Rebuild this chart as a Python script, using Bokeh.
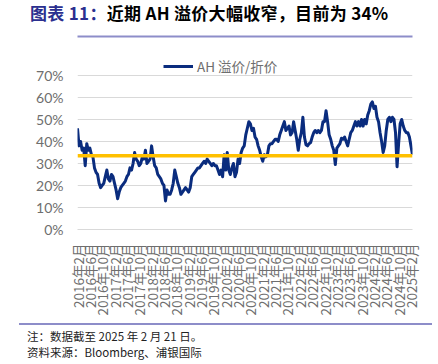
from bokeh.plotting import figure
from bokeh.models import (Span, Legend, LegendItem, FixedTicker, PrintfTickFormatter,
                          Range1d, ColumnDataSource, Div, LinearAxis)
from bokeh.layouts import column
from bokeh.embed import file_html
from bokeh.resources import INLINE
import math

# ---------------- data ----------------
tick_labels = ["2016年2月", "2016年6月", "2016年10月", "2017年2月", "2017年6月", "2017年10月",
               "2018年2月", "2018年6月", "2018年10月", "2019年2月", "2019年6月", "2019年10月",
               "2020年2月", "2020年6月", "2020年10月", "2021年2月", "2021年6月", "2021年10月",
               "2022年2月", "2022年6月", "2022年10月", "2023年2月", "2023年6月", "2023年10月",
               "2024年2月", "2024年6月", "2024年10月", "2025年2月"]

# AH premium (%), two readings per month, Feb 2016 - Feb 2025
ah_premium = [
    46, 38, 40, 36, 37, 29, 39, 36, 37, 34, 33, 28, 26, 25, 21, 19, 20, 21, 24, 27,
    23, 22, 25, 24, 21, 18, 14, 17, 19, 20, 21, 22, 24, 25, 28, 27, 30, 35, 32, 31,
    29, 30, 33, 32, 36, 30, 31, 32, 38, 33, 29, 28, 25, 24, 23, 21, 20, 13, 18, 16,
    16, 18, 21, 27, 24, 21, 19, 16, 17, 18, 19, 18, 17, 19, 24, 25, 26, 27, 28, 28,
    29, 30, 31, 30, 32, 31, 30, 29, 30, 29, 29, 27, 25, 27, 24, 34, 27, 35, 27, 25,
    28, 30, 24, 26, 32, 30, 35, 37, 38, 43, 46, 49, 48, 45, 46, 42, 41, 38, 36, 33,
    31, 34, 33, 34, 38, 39, 39, 40, 41, 41, 40, 43, 45, 47, 49, 45, 46, 47, 43, 44,
    49, 45, 41, 36, 41, 44, 51, 42, 38.5, 38, 39, 39.5, 42, 44, 45, 44, 45, 44, 45, 49,
    49, 54, 49, 43, 41, 38, 36, 29.5, 37, 38, 39, 41.5, 41, 42, 40, 38, 41, 44, 45, 47,
    49, 47, 49, 47, 50, 47, 50, 48, 52, 54, 57, 58, 55, 56, 51, 49, 44, 40, 35, 38,
    45, 50, 51, 49, 51, 50, 44, 28.5, 39, 48, 50, 47, 45, 44, 44, 42, 38, 34,
]
avg_level = 33.5
y_ticks = [0, 10, 20, 30, 40, 50, 60, 70]

series_label = "AH 溢价/折价"
title_head = "图表 11："
title_body = "近期 AH 溢价大幅收窄，目前为 34%"
note_1 = "注：数据截至 2025 年 2 月 21 日。"
note_2 = "资料来源：Bloomberg、浦银国际"

# month offsets from Feb 2016
def month_offset(lbl):
    y, rest = lbl.split("年")
    m = int(rest.replace("月", ""))
    return (int(y) - 2016) * 12 + (m - 2)

tick_pos = [month_offset(l) for l in tick_labels]
x_pos = [i * 0.5 for i in range(len(ah_premium))]

# ---------------- styles ----------------
CJK = "Noto Sans CJK SC"
GRAY = "#6E6E6E"
RULE = "#8D8DC9"
W = 434

# ---------------- main figure ----------------
p = figure(width=W, height=289, output_backend="svg", toolbar_location=None,
           x_range=Range1d(0, x_pos[-1]), y_range=Range1d(0, 87.7),
           min_border_left=77, min_border_right=22, min_border_top=2, min_border_bottom=94)
p.outline_line_color = None
p.xgrid.grid_line_color = None
p.ygrid.grid_line_color = "#D9D9D9"
p.ygrid.grid_line_width = 1

p.yaxis.ticker = FixedTicker(ticks=y_ticks)
p.yaxis.formatter = PrintfTickFormatter(format="%d%%")
p.yaxis.axis_line_color = None
p.yaxis.major_tick_line_color = None
p.yaxis.minor_tick_line_color = None
p.yaxis.major_tick_out = 0
p.yaxis.major_label_standoff = 14
p.yaxis.major_label_text_font = "Lato"
p.yaxis.major_label_text_font_size = "14px"
p.yaxis.major_label_text_color = GRAY

p.xaxis.ticker = FixedTicker(ticks=tick_pos)
p.xaxis.major_label_overrides = {t: l for t, l in zip(tick_pos, tick_labels)}
p.xaxis.major_label_orientation = math.pi / 2
p.xaxis.axis_line_color = "#D9D9D9"
p.xaxis.major_tick_line_color = None
p.xaxis.minor_tick_line_color = None
p.xaxis.major_tick_out = 0
p.xaxis.major_label_standoff = 14
p.xaxis.major_label_text_font = CJK
p.xaxis.major_label_text_font_size = "13.5px"
p.xaxis.major_label_text_color = GRAY

# top rule under the title, drawn as an unlabeled axis line
top_rule = LinearAxis(ticker=FixedTicker(ticks=[]), axis_line_color=RULE, axis_line_width=2,
                      major_tick_line_color=None, minor_tick_line_color=None,
                      major_tick_out=0, major_tick_in=0, minor_tick_out=0, minor_tick_in=0,
                      major_label_standoff=0, major_label_text_font_size="0px")
p.add_layout(top_rule, "above")

src = ColumnDataSource(data=dict(x=x_pos, y=ah_premium))
r = p.line("x", "y", source=src, line_color="#0A2C7E", line_width=3, line_join="round")

p.add_layout(Span(location=avg_level, dimension="width", line_color="#FFC000", line_width=3.5))

legend = Legend(items=[LegendItem(label=series_label, renderers=[r])], location=(86, 153),
                orientation="horizontal", label_text_font=CJK, label_text_font_size="13.5px",
                label_text_color=GRAY, glyph_width=30, glyph_height=14, label_height=14,
                label_standoff=4, padding=0, margin=0, spacing=0,
                background_fill_alpha=0, border_line_alpha=0)
p.add_layout(legend)

# ---------------- title ----------------
title_html = (
    f'<div style="margin:0 0 0 30px;font-family:\'{CJK}\';font-weight:bold;'
    f'font-size:17px;line-height:25px;letter-spacing:0.3px;white-space:nowrap;color:#000;">'
    f'<span style="color:#2B2F8F;">{title_head}</span>{title_body}</div>'
)
title_div = Div(text=title_html, width=W, height=34, margin=(0, 0, 0, 0))

# ---------------- bottom rule + notes ----------------
bottom_rule = Div(text="", width=413, height=2, margin=(0, 0, 0, 19),
                  styles={"background-color": RULE})

notes_html = (
    f'<div style="margin:3px 0 0 27px;font-family:\'{CJK}\';font-size:11.5px;'
    f'line-height:16px;white-space:nowrap;color:#222;">{note_1}<br>{note_2}</div>'
)
notes_div = Div(text=notes_html, width=W, height=37, margin=(0, 0, 0, 0))

layout = column(title_div, p, bottom_rule, notes_div, spacing=0)

open("out.html", "w").write(file_html(layout, INLINE))
